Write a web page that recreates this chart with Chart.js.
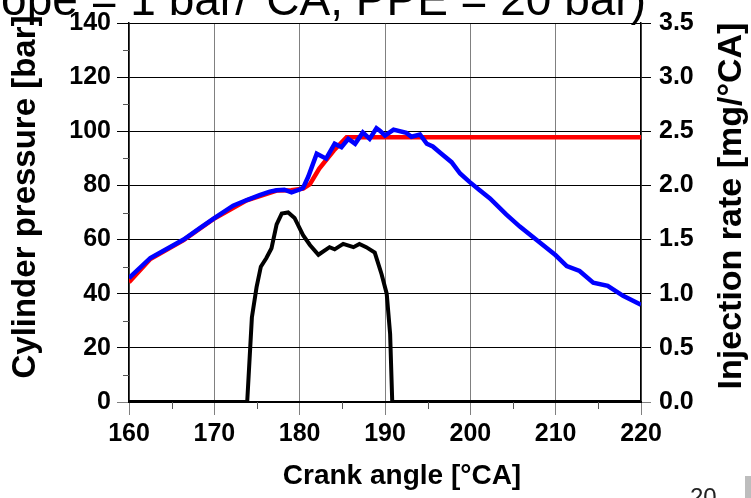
<!DOCTYPE html>
<html>
<head>
<meta charset="utf-8">
<script src="https://cdn.jsdelivr.net/npm/chart.js@4.4.0/dist/chart.umd.min.js"></script>
<style>
  html, body { margin: 0; padding: 0; background: #fff; }
  #wrap { position: relative; width: 751px; height: 498px; }
</style>
</head>
<body>
<div id="wrap"><canvas id="chart" width="751" height="498"></canvas></div>
<script>
// Messung: Zylinderdruck über Kurbelwinkel
const measAngle = [160, 162.5, 166.4, 168.3, 170, 172.2, 173.8, 175.3, 176.5, 177.3, 178.2, 179.05, 180.0, 180.4,
  181.0, 182.0, 183.1, 184.1, 184.9, 185.7, 186.5, 187.4, 188.2, 189.0, 189.4, 190.0, 191.0, 192.5, 193.1, 194.1,
  194.9, 195.6, 196.5, 197.8, 198.8, 199.9, 201.1, 202.3, 204.2, 205.8, 207.7, 210.0, 211.3, 212.8, 214.4, 216.1,
  217.9, 220];
const measPressure = [45.8, 53.2, 60.0, 64.2, 67.9, 72.5, 74.6, 76.4, 77.7, 78.2, 78.4, 77.4, 78.5, 79.1,
  83.2, 91.7, 89.9, 95.4, 94.1, 97.2, 95.4, 99.6, 97.2, 101.1, 100.2, 98.4, 100.6, 99.4, 98.0, 98.8,
  95.4, 94.4, 92.0, 88.6, 84.4, 81.3, 78.2, 75.2, 69.3, 64.8, 60.0, 54.2, 50.2, 48.4, 44.1, 42.9,
  39.2, 35.9];

// Modell: Zylinderdruck
const modelAngle = [160, 162.5, 166.4, 170, 173.8, 177.3, 179.0, 180.4, 181.2, 182.3, 184.0, 185.5, 220];
const modelPressure = [44.2, 52.8, 59.8, 67.8, 74.5, 78.1, 78.2, 78.8, 80.5, 86.2, 92.9, 97.8, 97.8];

// Einspritzrate [mg/°CA]
const injAngle = [160, 173.85, 174.4, 174.95, 175.45, 176.1, 176.7, 177.3, 177.9, 178.65, 179.4, 180.4, 181.2,
  182.2, 183.5, 184.1, 185.1, 186.3, 187.0, 187.8, 188.8, 189.6, 190.2, 190.6, 190.85, 220];
const injRate = [0, 0, 0.78, 1.06, 1.25, 1.33, 1.42, 1.64, 1.74, 1.75, 1.70, 1.54, 1.45,
  1.36, 1.43, 1.41, 1.46, 1.43, 1.46, 1.43, 1.38, 1.18, 1.0, 0.63, 0, 0];

const angleTicks = [160, 170, 180, 190, 200, 210, 220];
const angleMinor = [165, 175, 185, 195, 205, 215];
const pressureTicks = [0, 20, 40, 60, 80, 100, 120, 140];
const pressureMinor = [10, 30, 50, 70, 90, 110, 130];
const rateTicks = [0, 0.5, 1.0, 1.5, 2.0, 2.5, 3.0, 3.5];

const FONT = "'Liberation Sans', Arial, sans-serif";

const toPoints = (xs, ys) => xs.map((x, i) => ({ x, y: ys[i] }));
const fixTicks = vals => scale => { scale.ticks = vals.map(v => ({ value: v })); };

// Titel, Achsentitel, Nebenstriche
const decorations = {
  id: 'decorations',
  afterDraw(chart) {
    const ctx = chart.ctx;
    const xs = chart.scales.x, ys = chart.scales.y;
    const area = chart.chartArea;
    ctx.save();

    ctx.strokeStyle = '#555';
    ctx.lineWidth = 1;
    pressureMinor.forEach(v => {
      const py = Math.round(ys.getPixelForValue(v)) + 0.5;
      ctx.beginPath(); ctx.moveTo(area.left - 6, py); ctx.lineTo(area.left, py); ctx.stroke();
    });
    angleMinor.forEach(v => {
      const px = Math.round(xs.getPixelForValue(v)) + 0.5;
      ctx.beginPath(); ctx.moveTo(px, area.bottom); ctx.lineTo(px, area.bottom + 7); ctx.stroke();
    });

    ctx.fillStyle = '#000';
    ctx.textAlign = 'center';
    ctx.textBaseline = 'middle';
    ctx.font = `bold 28px ${FONT}`;
    ctx.fillText('Crank angle [°CA]', 402, 476);

    ctx.font = `bold 33px ${FONT}`;
    ctx.save();
    ctx.translate(26, 197);
    ctx.rotate(-Math.PI / 2);
    ctx.fillText('Cylinder pressure [bar]', 0, 0);
    ctx.restore();

    ctx.font = `bold 34px ${FONT}`;
    ctx.save();
    ctx.translate(732, 206);
    ctx.rotate(-Math.PI / 2);
    ctx.fillText('Injection rate [mg/°CA]', 0, 0);
    ctx.restore();

    // abgeschnittener Folientitel
    ctx.font = `46px ${FONT}`;
    ctx.textAlign = 'right';
    ctx.textBaseline = 'alphabetic';
    ctx.fillText('(Slope = 1 bar/°CA, PPE = 20 bar)', 646, 15);

    // Seitenzahl
    ctx.font = `24px ${FONT}`;
    ctx.fillStyle = '#222';
    ctx.textAlign = 'left';
    ctx.textBaseline = 'top';
    ctx.fillText('20', 690, 486);
    ctx.fillStyle = '#bdbdbd';
    ctx.fillRect(745, 476, 6, 22);

    ctx.restore();
  }
};

const ctx = document.getElementById('chart');
new Chart(ctx, {
  type: 'line',
  data: {
    datasets: [
      {
        label: 'Injection rate',
        data: toPoints(injAngle, injRate),
        yAxisID: 'y1',
        borderColor: '#000000',
        borderWidth: 4,
        pointRadius: 0,
        tension: 0
      },
      {
        label: 'Measured',
        data: toPoints(measAngle, measPressure),
        yAxisID: 'y',
        borderColor: '#0000ff',
        borderWidth: 4.5,
        pointRadius: 0,
        tension: 0
      },
      {
        label: 'Model',
        data: toPoints(modelAngle, modelPressure),
        yAxisID: 'y',
        borderColor: '#ff0000',
        borderWidth: 4.5,
        pointRadius: 0,
        tension: 0
      }
    ]
  },
  options: {
    responsive: false,
    animation: false,
    devicePixelRatio: 1,
    layout: { padding: { top: 20, left: 0, right: 0, bottom: 0 } },
    plugins: {
      legend: { display: false },
      tooltip: { enabled: false }
    },
    scales: {
      x: {
        type: 'linear',
        min: 160, max: 220,
        afterBuildTicks: fixTicks(angleTicks),
        afterFit: s => { s.height = 96; },
        grid: { color: '#808080', lineWidth: 1, tickLength: 13, tickColor: '#808080' },
        border: { color: '#000', width: 2 },
        ticks: { color: '#000', font: { family: FONT, size: 25, weight: 'bold' }, padding: 4, maxRotation: 0 }
      },
      y: {
        position: 'left',
        min: 0, max: 140,
        afterBuildTicks: fixTicks(pressureTicks),
        afterFit: s => { s.width = 129; },
        grid: { color: '#000', lineWidth: 1, tickLength: 12, tickColor: ctx => ctx.tick && ctx.tick.value === 0 ? '#808080' : '#000' },
        border: { color: '#000', width: 1.5 },
        ticks: { color: '#000', font: { family: FONT, size: 25, weight: 'bold' }, padding: 6 }
      },
      y1: {
        position: 'right',
        min: 0, max: 3.5,
        afterBuildTicks: fixTicks(rateTicks),
        afterFit: s => { s.width = 110; },
        grid: { drawOnChartArea: false, tickLength: 10, tickColor: ctx => ctx.tick && ctx.tick.value === 0 ? '#808080' : '#000' },
        border: { color: '#000', width: 1.5 },
        ticks: {
          color: '#000', font: { family: FONT, size: 25, weight: 'bold' }, padding: 8,
          callback: v => v.toFixed(1)
        }
      }
    }
  },
  plugins: [decorations]
});
</script>
</body>
</html>
